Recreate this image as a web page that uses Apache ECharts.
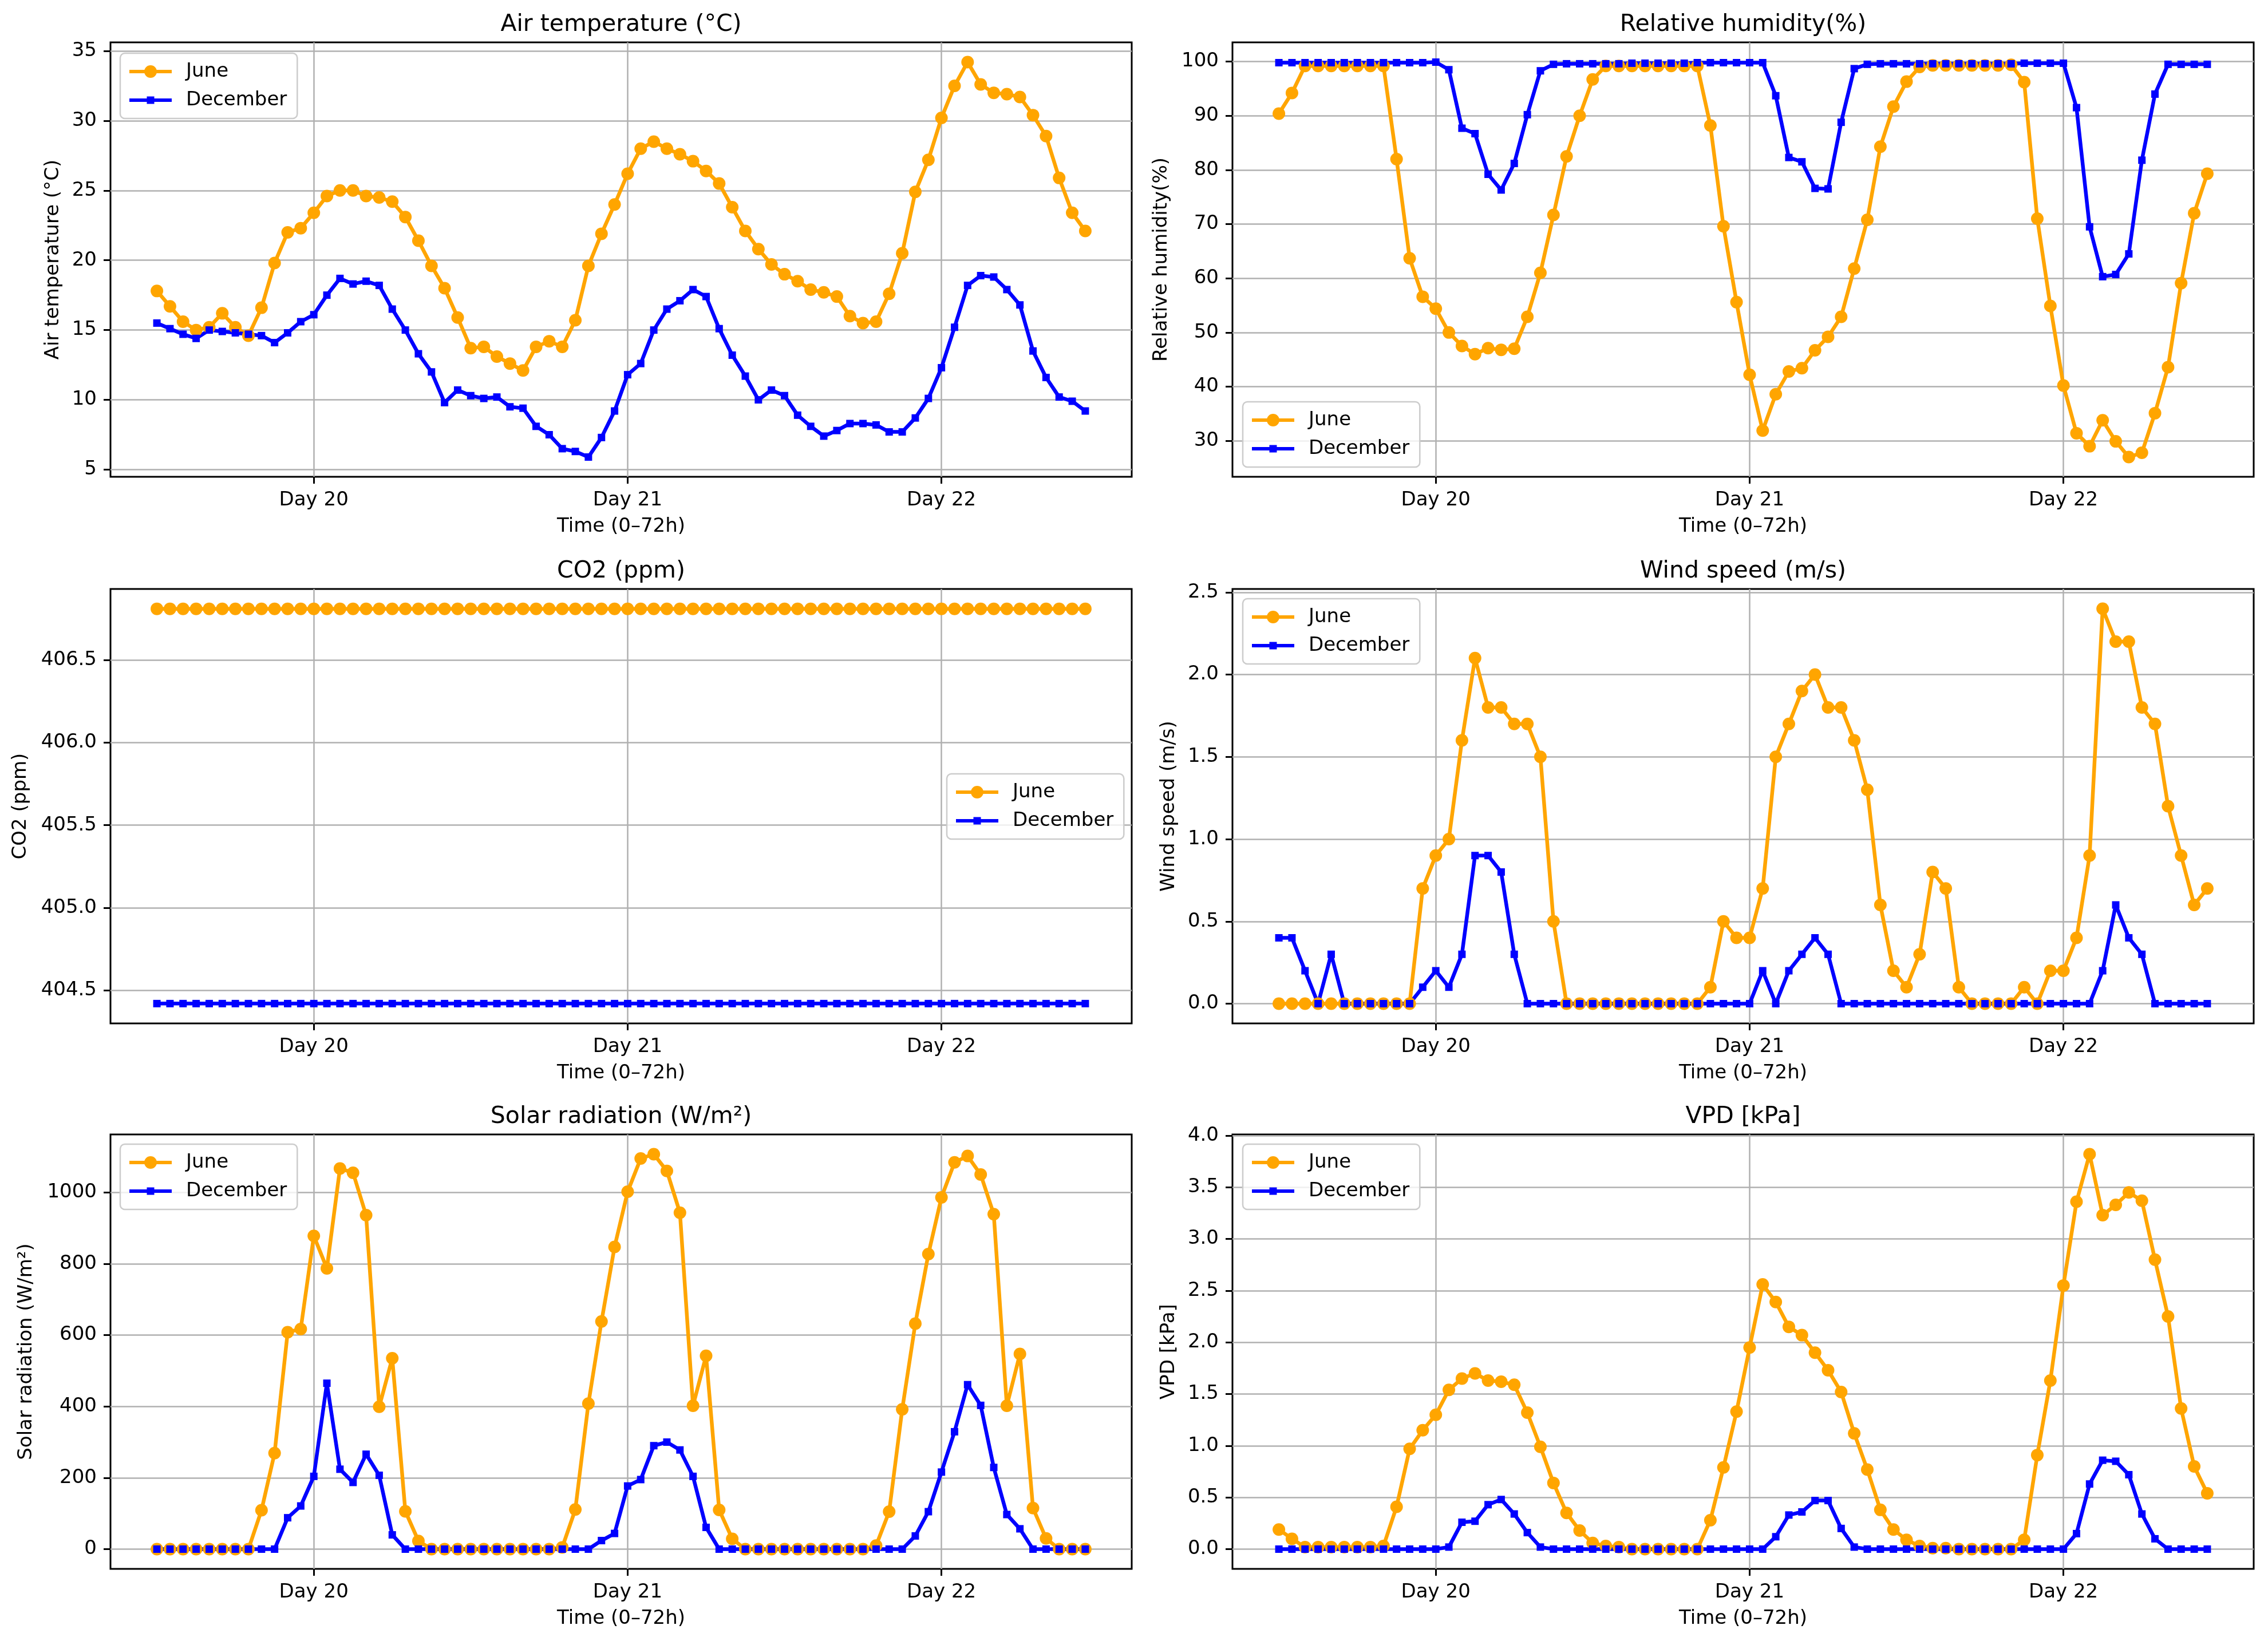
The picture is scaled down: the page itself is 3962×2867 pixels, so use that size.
<!DOCTYPE html>
<html>
<head>
<meta charset="utf-8">
<title>June vs December weather</title>
<script src="https://cdn.jsdelivr.net/npm/echarts@6/dist/echarts.min.js"></script>
<style>
  html, body { margin: 0; padding: 0; background: #ffffff; }
  #chart { width: 3962px; height: 2867px; }
</style>
</head>
<body>
<div id="chart"></div>
<script>
// hour index 0..71, ticks at the middle of each day
var hours = [0, 1, 2, 3, 4, 5, 6, 7, 8, 9, 10, 11, 12, 13, 14, 15, 16, 17, 18, 19, 20, 21, 22, 23,
    24, 25, 26, 27, 28, 29, 30, 31, 32, 33, 34, 35, 36, 37, 38, 39, 40, 41, 42, 43, 44, 45, 46, 47,
    48, 49, 50, 51, 52, 53, 54, 55, 56, 57, 58, 59, 60, 61, 62, 63, 64, 65, 66, 67, 68, 69, 70, 71];
var dayTicks = [12, 36, 60];
var dayLabels = ['Day 20', 'Day 21', 'Day 22'];
var seriesNames = ['June', 'December'];

var tempJune = [17.8, 16.7, 15.6, 15.0, 15.2, 16.2, 15.2, 14.6, 16.6, 19.8, 22.0, 22.3,
    23.4, 24.6, 25.0, 25.0, 24.6, 24.5, 24.2, 23.1, 21.4, 19.6, 18.0, 15.9,
    13.7, 13.8, 13.1, 12.6, 12.1, 13.8, 14.2, 13.8, 15.7, 19.6, 21.9, 24.0,
    26.2, 28.0, 28.5, 28.0, 27.6, 27.1, 26.4, 25.5, 23.8, 22.1, 20.8, 19.7,
    19.0, 18.5, 17.9, 17.7, 17.4, 16.0, 15.5, 15.6, 17.6, 20.5, 24.9, 27.2,
    30.2, 32.5, 34.2, 32.6, 32.0, 31.9, 31.7, 30.4, 28.9, 25.9, 23.4, 22.1];
var tempDec = [15.5, 15.1, 14.7, 14.4, 15.0, 14.9, 14.8, 14.7, 14.6, 14.1, 14.8, 15.6,
    16.1, 17.5, 18.7, 18.3, 18.5, 18.2, 16.5, 15.0, 13.3, 12.0, 9.8, 10.7,
    10.3, 10.1, 10.2, 9.5, 9.4, 8.1, 7.5, 6.5, 6.3, 5.9, 7.3, 9.2,
    11.8, 12.6, 15.0, 16.5, 17.1, 17.9, 17.4, 15.1, 13.2, 11.7, 10.0, 10.7,
    10.3, 8.9, 8.1, 7.4, 7.8, 8.3, 8.3, 8.2, 7.7, 7.7, 8.7, 10.1,
    12.3, 15.2, 18.2, 18.9, 18.8, 17.9, 16.8, 13.5, 11.6, 10.2, 9.9, 9.2];

var rhJune = [90.4, 94.2, 99.2, 99.2, 99.2, 99.2, 99.2, 99.2, 99.2, 82.0, 63.7, 56.6,
    54.4, 50.0, 47.5, 46.0, 47.1, 46.8, 47.0, 52.9, 61.0, 71.7, 82.5, 90.0,
    96.7, 99.2, 99.2, 99.2, 99.2, 99.2, 99.2, 99.2, 99.2, 88.2, 69.6, 55.6,
    42.2, 31.9, 38.6, 42.8, 43.4, 46.7, 49.2, 52.9, 61.8, 70.8, 84.3, 91.7,
    96.3, 99.0, 99.3, 99.3, 99.3, 99.3, 99.3, 99.3, 99.4, 96.2, 71.0, 54.9,
    40.2, 31.4, 29.0, 33.8, 29.9, 27.0, 27.8, 35.1, 43.6, 59.1, 72.0, 79.3];
var rhDec = [99.8, 99.8, 99.8, 99.8, 99.8, 99.8, 99.8, 99.8, 99.8, 99.8, 99.8, 99.8,
    99.9, 98.5, 87.7, 86.7, 79.2, 76.3, 81.2, 90.2, 98.3, 99.5, 99.6, 99.6,
    99.6, 99.6, 99.6, 99.7, 99.7, 99.7, 99.7, 99.7, 99.8, 99.8, 99.8, 99.8,
    99.8, 99.8, 93.7, 82.3, 81.5, 76.6, 76.5, 88.8, 98.7, 99.5, 99.6, 99.6,
    99.6, 99.6, 99.6, 99.6, 99.6, 99.6, 99.6, 99.6, 99.6, 99.7, 99.7, 99.7,
    99.7, 91.5, 69.5, 60.3, 60.7, 64.5, 81.8, 94.0, 99.5, 99.5, 99.5, 99.5];

var co2June = [406.81, 406.81, 406.81, 406.81, 406.81, 406.81, 406.81, 406.81, 406.81, 406.81, 406.81, 406.81,
    406.81, 406.81, 406.81, 406.81, 406.81, 406.81, 406.81, 406.81, 406.81, 406.81, 406.81, 406.81,
    406.81, 406.81, 406.81, 406.81, 406.81, 406.81, 406.81, 406.81, 406.81, 406.81, 406.81, 406.81,
    406.81, 406.81, 406.81, 406.81, 406.81, 406.81, 406.81, 406.81, 406.81, 406.81, 406.81, 406.81,
    406.81, 406.81, 406.81, 406.81, 406.81, 406.81, 406.81, 406.81, 406.81, 406.81, 406.81, 406.81,
    406.81, 406.81, 406.81, 406.81, 406.81, 406.81, 406.81, 406.81, 406.81, 406.81, 406.81, 406.81];
var co2Dec = [404.42, 404.42, 404.42, 404.42, 404.42, 404.42, 404.42, 404.42, 404.42, 404.42, 404.42, 404.42,
    404.42, 404.42, 404.42, 404.42, 404.42, 404.42, 404.42, 404.42, 404.42, 404.42, 404.42, 404.42,
    404.42, 404.42, 404.42, 404.42, 404.42, 404.42, 404.42, 404.42, 404.42, 404.42, 404.42, 404.42,
    404.42, 404.42, 404.42, 404.42, 404.42, 404.42, 404.42, 404.42, 404.42, 404.42, 404.42, 404.42,
    404.42, 404.42, 404.42, 404.42, 404.42, 404.42, 404.42, 404.42, 404.42, 404.42, 404.42, 404.42,
    404.42, 404.42, 404.42, 404.42, 404.42, 404.42, 404.42, 404.42, 404.42, 404.42, 404.42, 404.42];

var windJune = [0, 0, 0, 0, 0, 0, 0, 0, 0, 0, 0, 0.7,
    0.9, 1.0, 1.6, 2.1, 1.8, 1.8, 1.7, 1.7, 1.5, 0.5, 0, 0,
    0, 0, 0, 0, 0, 0, 0, 0, 0, 0.1, 0.5, 0.4,
    0.4, 0.7, 1.5, 1.7, 1.9, 2.0, 1.8, 1.8, 1.6, 1.3, 0.6, 0.2,
    0.1, 0.3, 0.8, 0.7, 0.1, 0, 0, 0, 0, 0.1, 0, 0.2,
    0.2, 0.4, 0.9, 2.4, 2.2, 2.2, 1.8, 1.7, 1.2, 0.9, 0.6, 0.7];
var windDec = [0.4, 0.4, 0.2, 0, 0.3, 0, 0, 0, 0, 0, 0, 0.1,
    0.2, 0.1, 0.3, 0.9, 0.9, 0.8, 0.3, 0, 0, 0, 0, 0,
    0, 0, 0, 0, 0, 0, 0, 0, 0, 0, 0, 0,
    0, 0.2, 0, 0.2, 0.3, 0.4, 0.3, 0, 0, 0, 0, 0,
    0, 0, 0, 0, 0, 0, 0, 0, 0, 0, 0, 0,
    0, 0, 0, 0.2, 0.6, 0.4, 0.3, 0, 0, 0, 0, 0];

var solarJune = [0, 0, 0, 0, 0, 0, 0, 0, 109, 269, 608, 617,
    878, 787, 1067, 1055, 936, 399, 535, 106, 23, 0, 0, 0,
    0, 0, 0, 0, 0, 0, 0, 5, 111, 408, 638, 847,
    1002, 1095, 1107, 1060, 943, 402, 542, 110, 29, 0, 0, 0,
    0, 0, 0, 0, 0, 0, 0, 10, 105, 392, 632, 827,
    986, 1084, 1102, 1050, 939, 402, 547, 115, 30, 0, 0, 0];
var solarDec = [0, 0, 0, 0, 0, 0, 0, 0, 0, 0, 88, 121,
    204, 465, 224, 187, 266, 207, 40, 0, 0, 0, 0, 0,
    0, 0, 0, 0, 0, 0, 0, 0, 0, 0, 24, 44,
    177, 195, 290, 300, 278, 204, 61, 0, 0, 0, 0, 0,
    0, 0, 0, 0, 0, 0, 0, 0, 0, 0, 37, 105,
    216, 329, 461, 403, 229, 97, 57, 0, 0, 0, 0, 0];

var vpdJune = [0.19, 0.10, 0.02, 0.02, 0.02, 0.02, 0.02, 0.02, 0.03, 0.41, 0.97, 1.15,
    1.30, 1.54, 1.65, 1.70, 1.63, 1.62, 1.59, 1.32, 0.99, 0.64, 0.35, 0.18,
    0.06, 0.03, 0.02, 0, 0, 0, 0, 0, 0, 0.28, 0.79, 1.33,
    1.95, 2.56, 2.39, 2.15, 2.07, 1.90, 1.73, 1.52, 1.12, 0.77, 0.38, 0.19,
    0.09, 0.03, 0.01, 0.01, 0, 0, 0, 0, 0, 0.09, 0.91, 1.63,
    2.55, 3.36, 3.82, 3.23, 3.33, 3.45, 3.37, 2.80, 2.25, 1.36, 0.80, 0.54];
var vpdDec = [0, 0, 0, 0, 0, 0, 0, 0, 0, 0, 0, 0,
    0, 0.02, 0.26, 0.27, 0.43, 0.48, 0.34, 0.16, 0.02, 0, 0, 0,
    0, 0, 0, 0, 0, 0, 0, 0, 0, 0, 0, 0,
    0, 0, 0.12, 0.33, 0.36, 0.47, 0.47, 0.20, 0.02, 0, 0, 0,
    0, 0, 0, 0, 0, 0, 0, 0, 0, 0, 0, 0,
    0, 0.15, 0.63, 0.86, 0.85, 0.72, 0.34, 0.10, 0, 0, 0, 0];

// y tick labels per panel
var tempTicks = [5, 10, 15, 20, 25, 30, 35];
var rhTicks = [30, 40, 50, 60, 70, 80, 90, 100];
var co2Ticks = [404.5, 405.0, 405.5, 406.0, 406.5];
var windTicks = [0, 0.5, 1.0, 1.5, 2.0, 2.5];
var solarTicks = [0, 200, 400, 600, 800, 1000];
var vpdTicks = [0, 0.5, 1.0, 1.5, 2.0, 2.5, 3.0, 3.5, 4.0];

var panels = [
    { title: 'Air temperature (°C)', june: tempJune, dec: tempDec, ticks: tempTicks, min: 4.485, max: 35.615, digits: 0 },
    { title: 'Relative humidity(%)', june: rhJune, dec: rhDec, ticks: rhTicks, min: 23.36, max: 103.55, digits: 0 },
    { title: 'CO2 (ppm)', june: co2June, dec: co2Dec, ticks: co2Ticks, min: 404.30, max: 406.93, digits: 1 },
    { title: 'Wind speed (m/s)', june: windJune, dec: windDec, ticks: windTicks, min: -0.12, max: 2.52, digits: 1 },
    { title: 'Solar radiation (W/m²)', june: solarJune, dec: solarDec, ticks: solarTicks, min: -55.35, max: 1162.35, digits: 0 },
    { title: 'VPD [kPa]', june: vpdJune, dec: vpdDec, ticks: vpdTicks, min: -0.191, max: 4.011, digits: 1 }
];

// layout (pixels)
var FONT = 'DejaVu Sans';
var GW = 1784, GH = 759;
var boxes = [
    { left: 193, top: 74 }, { left: 2153, top: 74 },
    { left: 193, top: 1029 }, { left: 2153, top: 1029 },
    { left: 193, top: 1982 }, { left: 2153, top: 1982 }
];
var nameGaps = [83, 107, 140, 94, 130, 94];
var legendPos = [
    { left: 210, top: 93 },
    { left: 2171, top: 702 },
    { left: 1654, top: 1352 },
    { left: 2171, top: 1046 },
    { left: 210, top: 1999 },
    { left: 2171, top: 1999 }
];
var colors = ['#ffa500', '#0000ff'];
var legendIcons = [
    'path://M0,8H74V14H0Z M26,11A11,11,0,1,1,48,11A11,11,0,1,1,26,11Z',
    'path://M0,8H74V14H0Z M30.5,4.5H43.5V17.5H30.5Z'
];

var chart = echarts.init(document.getElementById('chart'));

var option = {
    backgroundColor: '#ffffff',
    animation: false,
    textStyle: { fontFamily: FONT },
    title: [],
    grid: [],
    xAxis: [],
    yAxis: [],
    legend: [],
    series: []
};

function pairs(vals) {
    return hours.map(function (h, k) { return [h, vals[k]]; });
}

panels.forEach(function (p, i) {
    var b = boxes[i];
    option.title.push({
        text: p.title,
        left: b.left + GW / 2,
        top: b.top - 51,
        textAlign: 'center',
        padding: 0,
        textStyle: { fontFamily: FONT, fontSize: 41, fontWeight: 'normal', color: '#000' }
    });
    option.grid.push({
        left: b.left, top: b.top, width: GW, height: GH,
        show: true, borderColor: '#000', borderWidth: 3, backgroundColor: 'transparent',
        containLabel: false
    });
    option.xAxis.push({
        type: 'value', gridIndex: i, min: -3.55, max: 74.55,
        name: 'Time (0–72h)', nameLocation: 'middle', nameGap: 70,
        nameTextStyle: { fontFamily: FONT, fontSize: 34, color: '#000' },
        axisLine: { show: false, onZero: false },
        axisTick: { show: true, inside: false, length: 12, customValues: dayTicks,
            lineStyle: { color: '#000', width: 3 } },
        axisLabel: { show: true, margin: 24, customValues: dayTicks, fontFamily: FONT, fontSize: 34, color: '#000',
            formatter: function (v) { return dayLabels[dayTicks.indexOf(v)]; } },
        splitLine: { show: true, lineStyle: { color: '#b0b0b0', width: 2.5 } }
    });
    option.yAxis.push({
        type: 'value', gridIndex: i, min: p.min, max: p.max,
        name: p.title, nameLocation: 'middle', nameGap: nameGaps[i],
        nameTextStyle: { fontFamily: FONT, fontSize: 34, color: '#000' },
        axisLine: { show: false, onZero: false },
        axisTick: { show: true, inside: false, length: 12, customValues: p.ticks,
            lineStyle: { color: '#000', width: 3 } },
        axisLabel: { show: true, margin: 24, customValues: p.ticks, fontFamily: FONT, fontSize: 34, color: '#000',
            formatter: (function (d) { return function (v) { return v.toFixed(d); }; })(p.digits) },
        splitLine: { show: true, lineStyle: { color: '#b0b0b0', width: 2.5 } }
    });
    option.legend.push({
        left: legendPos[i].left, top: legendPos[i].top,
        orient: 'vertical',
        data: [
            { name: seriesNames[0], icon: legendIcons[0] },
            { name: seriesNames[1], icon: legendIcons[1] }
        ],
        itemWidth: 74, itemHeight: 22, itemGap: 10,
        padding: [12, 18, 12, 16],
        backgroundColor: 'rgba(255,255,255,0.8)',
        borderColor: '#cccccc', borderWidth: 2.5, borderRadius: 8,
        selectedMode: false,
        textStyle: { fontFamily: FONT, fontSize: 34, color: '#000', lineHeight: 40, padding: [0, 0, 0, 20] }
    });
    option.series.push({
        name: seriesNames[0], type: 'line', xAxisIndex: i, yAxisIndex: i,
        data: pairs(p.june), symbol: 'circle', symbolSize: 22,
        itemStyle: { color: colors[0] }, lineStyle: { color: colors[0], width: 6.5 },
        silent: true, emphasis: { disabled: true }
    });
    option.series.push({
        name: seriesNames[1], type: 'line', xAxisIndex: i, yAxisIndex: i,
        data: pairs(p.dec), symbol: 'rect', symbolSize: 13,
        itemStyle: { color: colors[1] }, lineStyle: { color: colors[1], width: 6.5 },
        silent: true, emphasis: { disabled: true }
    });
});

chart.setOption(option);

window.addEventListener('resize', function () {
    chart.resize();
});
</script>
</body>
</html>
